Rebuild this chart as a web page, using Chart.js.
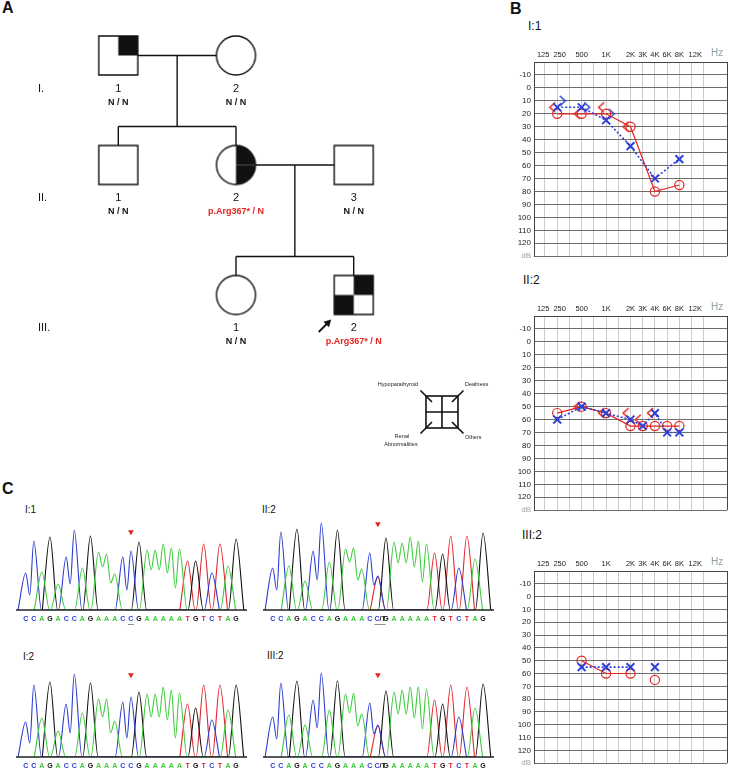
<!DOCTYPE html>
<html>
<head>
<meta charset="utf-8">
<script src="https://cdn.jsdelivr.net/npm/chart.js@4.4.1/dist/chart.umd.min.js"></script>
<style>
  body { margin: 0; background: #fff; overflow: hidden; }
  #fig { position: relative; width: 730px; height: 771px; font-family: "Liberation Sans", Arial, sans-serif; color: #111; }
  #fig canvas, #fig .lbl { position: absolute; }
  .lbl { line-height: 1; white-space: nowrap; }
  .panel { font-weight: bold; font-size: 16px; }
  .aud { font-size: 12px; }
  .seq { font-size: 10px; }
</style>
</head>
<body>
<div id="fig">
  <div class="lbl panel" style="left:2px;top:0px">A</div>
  <div class="lbl panel" style="left:510px;top:1px">B</div>
  <div class="lbl panel" style="left:2px;top:481px">C</div>

  <div class="lbl aud" style="left:528px;top:20px">I:1</div>
  <div class="lbl aud" style="left:523px;top:274px">II:2</div>
  <div class="lbl aud" style="left:522px;top:529px">III:2</div>

  <div class="lbl seq" style="left:25px;top:505px">I:1</div>
  <div class="lbl seq" style="left:262px;top:505px">II:2</div>
  <div class="lbl seq" style="left:23px;top:652px">I:2</div>
  <div class="lbl seq" style="left:267px;top:651px">III:2</div>

  <canvas id="pedigree" width="500" height="470" style="left:0;top:0"></canvas>
  <canvas id="audI1" width="230" height="223" style="left:500px;top:41px"></canvas>
  <canvas id="audII2" width="230" height="223" style="left:500px;top:295px"></canvas>
  <canvas id="audIII2" width="230" height="221" style="left:500px;top:550px"></canvas>
  <canvas id="seqI1" width="231" height="110" style="left:16px;top:515px"></canvas>
  <canvas id="seqII2" width="231" height="110" style="left:263px;top:515px"></canvas>
  <canvas id="seqI2" width="231" height="110" style="left:16px;top:662px"></canvas>
  <canvas id="seqIII2" width="231" height="110" style="left:263px;top:662px"></canvas>
</div>

<script>
// ---------- pedigree (panel A) ----------
const pedNum = ['1', '2', '1', '2', '3', '1', '2'];
const pedGen = [0, 0, 1, 1, 1, 2, 2];
const pedCol = [1, 2, 1, 2, 3, 2, 3];
const pedSex = ['M', 'F', 'M', 'F', 'M', 'F', 'M'];
const pedGeno = ['N / N', 'N / N', 'N / N', 'p.Arg367* / N', 'N / N', 'N / N', 'p.Arg367* / N'];
// quadrants: hypoparathyroid, deafness, renal abnormalities, others
const pedAffected = [[0, 1, 0, 0], [0, 0, 0, 0], [0, 0, 0, 0], [0, 1, 0, 1], [0, 0, 0, 0], [0, 0, 0, 0], [0, 1, 1, 0]];
const pedCouples = [[0, 1], [3, 4]];
const pedChildren = [[2, 3], [5, 6]];
const proband = 6;
const genNames = ['I.', 'II.', 'III.'];
const genY = [55.5, 165, 295];
const keyNames = ['Hypoparathyroid', 'Deafness', 'Renal|Abnormalities', 'Others'];

// ---------- audiograms (panel B) ----------
const audSlots = [2, 4, 6, 8, 9, 10, 11, 12];          // 250 500 1K 2K 3K 4K 6K 8K
const gridSlots = [1, 2, 3, 4, 5, 6, 7, 8, 9, 10, 11, 12, 13, 14];
const tickNames = ['125', '250', '500', '1K', '2K', '3K', '4K', '6K', '8K', '12K'];
const labelSlots = [0.85, 2.2, 4, 6, 8, 9, 10, 11, 12, 13.3];
const dbTicks = [-20, -10, 0, 10, 20, 30, 40, 50, 60, 70, 80, 90, 100, 110, 120, 130];

const i1RightAir = [20, 20, 20, 30, null, 80, null, 75];
const i1LeftAir = [15, 15, 25, 45, null, 70, null, 55];
const i1RightBone = [15, 20, 15, 30, null, null, null, null];
const i1LeftBone = [10, 15, 20, null, null, null, null, null];

const ii2RightAir = [55, 50, 55, 65, 65, 65, 65, 65];
const ii2LeftAir = [60, 50, 55, 60, 65, 55, 70, 70];
const ii2RightBone = [null, 50, 55, 55, 60, 55, null, null];

const iii2RightAir = [null, 50, 60, 60, null, 65, null, null];
const iii2LeftAir = [null, 55, 55, 55, null, 55, null, null];

// ---------- chromatograms (panel C) ----------
const seqBases = 'CCAGACCAGAAACCGAAAAATGTCTAG'.split('');
const markPos = 13;
const i1Peaks = [37, 69, 38, 73, 26, 53, 80, 42, 74, 58, 56, 36, 53, 59, 68, 60, 60, 66, 62, 61, 49, 49, 66, 37, 66, 44, 71];
const i1Valleys = [15, 26, 43, 27, 20, 40, 40, 37, 22];
const ii2Peaks = [42, 78, 44, 81, 29, 59, 87, 48, 80, 61, 62, 41, 57, 34, 72, 68, 67, 73, 69, 66, 57, 56, 74, 42, 74, 51, 77];
const ii2Valleys = [20, 30, 48, 30, 25, 47, 47, 43, 28];
const i2Peaks = [35, 72, 39, 75, 26, 53, 83, 44, 74, 58, 58, 36, 55, 60, 65, 63, 63, 70, 67, 64, 53, 49, 72, 37, 72, 47, 72];
const i2Valleys = [14, 24, 40, 24, 19, 40, 40, 37, 19];
const iii2Peaks = [40, 74, 42, 76, 32, 57, 84, 47, 76, 63, 64, 43, 54, 32, 66, 65, 67, 70, 70, 68, 57, 53, 72, 40, 70, 49, 73];
const iii2Valleys = [18, 29, 44, 31, 23, 43, 43, 39, 28];
const hetT = [null, 33, null, 31];       // T peak at the marked position
const markH = [78, 86, 82, 82];

const FONT = '"Liberation Sans", Arial, sans-serif';
const RED = '#e4251f';
const BLUE = '#2c3fd6';
Chart.defaults.font.family = FONT;

const baseColors = { A: '#3ccc3c', C: '#2a3bd0', G: '#111111', T: '#e3242b' };

// ---------------- pedigree ----------------
const SYM = 39;
function pedSymbol(sex, aff) {
  const c = document.createElement('canvas');
  c.width = c.height = 43;
  const g = c.getContext('2d');
  const m = 21.5, h = SYM / 2;
  const path = () => {
    g.beginPath();
    if (sex === 'M') g.rect(m - h, m - h, 2 * h, 2 * h);
    else g.arc(m, m, h, 0, Math.PI * 2);
  };
  g.fillStyle = '#fff';
  path(); g.fill();
  g.save(); path(); g.clip();
  g.fillStyle = '#111';
  const q = [[-1, -1], [1, -1], [-1, 1], [1, 1]];
  aff.forEach((a, k) => {
    if (a) g.fillRect(q[k][0] < 0 ? m - h - 1 : m, q[k][1] < 0 ? m - h - 1 : m, h + 1, h + 1);
  });
  g.restore();
  g.strokeStyle = '#111'; g.lineWidth = 1.4;
  path(); g.stroke();
  return c;
}

const symbolImgs = pedSex.map((s, i) => pedSymbol(s, pedAffected[i]));

const lineSegs = [];
pedCouples.forEach(([a, b]) => {
  lineSegs.push([[pedCol[a], genY[pedGen[a]]], [pedCol[b], genY[pedGen[b]]]]);
});
pedChildren.forEach((kids, c) => {
  const [a, b] = pedCouples[c];
  const mid = (pedCol[a] + pedCol[b]) / 2;
  const cy = genY[pedGen[a]];
  const childY = genY[pedGen[kids[0]]];
  const sibY = childY - SYM / 2 - 19;
  lineSegs.push([[mid, cy], [mid, sibY]]);
  const cols = kids.map(k => pedCol[k]);
  lineSegs.push([[Math.min(...cols), sibY], [Math.max(...cols), sibY]]);
  kids.forEach(k => lineSegs.push([[pedCol[k], sibY], [pedCol[k], childY]]));
});

const pedDatasets = lineSegs.map(seg => ({
  data: seg.map(([x, y]) => ({ x, y })),
  showLine: true,
  borderColor: '#111',
  borderWidth: 1.4,
  pointRadius: 0,
  order: 1
}));
pedDatasets.push({
  data: pedCol.map((c, i) => ({ x: c, y: genY[pedGen[i]] })),
  showLine: false,
  pointStyle: symbolImgs,
  pointRadius: 20,
  order: 0
});

const pedigreeText = {
  id: 'pedigreeText',
  afterDatasetsDraw(chart) {
    const { ctx, scales: { x, y } } = chart;
    ctx.save();
    ctx.textAlign = 'center';
    ctx.textBaseline = 'middle';
    pedCol.forEach((c, i) => {
      const px = x.getPixelForValue(c);
      const py = y.getPixelForValue(genY[pedGen[i]]);
      ctx.fillStyle = '#111';
      ctx.font = '11px ' + FONT;
      ctx.fillText(pedNum[i], px, py + 33);
      ctx.font = 'bold 9px ' + FONT;
      ctx.fillStyle = pedGeno[i].indexOf('Arg') >= 0 ? RED : '#111';
      ctx.fillText(pedGeno[i], px, py + 47);
    });
    // generation numerals
    ctx.textAlign = 'left';
    ctx.fillStyle = '#111';
    ctx.font = '11px ' + FONT;
    genNames.forEach((g, k) => {
      ctx.fillText(g, chart.chartArea.left + 38, y.getPixelForValue(genY[k]) + 33);
    });
    // proband arrow
    const ax = x.getPixelForValue(pedCol[proband]);
    const ay = y.getPixelForValue(genY[pedGen[proband]]);
    const tx = ax - 22.5, ty = ay + 24.5;
    ctx.strokeStyle = '#111'; ctx.lineWidth = 1.8;
    ctx.beginPath(); ctx.moveTo(ax - 35, ay + 37); ctx.lineTo(tx - 3, ty + 3); ctx.stroke();
    const bx = tx - 5, by = ty + 5;
    ctx.fillStyle = '#111';
    ctx.beginPath(); ctx.moveTo(tx, ty); ctx.lineTo(bx - 2.8, by - 2.8); ctx.lineTo(bx + 2.8, by + 2.8); ctx.closePath(); ctx.fill();
    // legend key
    const kx = x.getPixelForValue(3.75), ky = y.getPixelForValue(412), kh = 16;
    ctx.lineWidth = 1.6;
    ctx.strokeRect(kx - kh, ky - kh, 2 * kh, 2 * kh);
    ctx.beginPath();
    ctx.moveTo(kx, ky - kh); ctx.lineTo(kx, ky + kh);
    ctx.moveTo(kx - kh, ky); ctx.lineTo(kx + kh, ky);
    [[-1, -1], [1, -1], [-1, 1], [1, 1]].forEach(([sx, sy]) => {
      const cx = kx + sx * kh, cy = ky + sy * kh;
      ctx.moveTo(cx + sx * 5.5, cy + sy * 5.5);
      ctx.lineTo(cx - sx * 6, cy - sy * 6);
    });
    ctx.stroke();
    ctx.font = '5.5px ' + FONT;
    ctx.fillStyle = '#222';
    ctx.textAlign = 'center';
    ctx.fillText(keyNames[0], kx - 44, ky - 27.5);
    const renal = keyNames[2].split('|');
    ctx.fillText(renal[0], kx - 40, ky + 24);
    ctx.fillText(renal[1], kx - 41, ky + 32);
    ctx.textAlign = 'left';
    ctx.fillText(keyNames[1], kx + 23, ky - 28);
    ctx.fillText(keyNames[3], kx + 23, ky + 25);
    ctx.restore();
  }
};

new Chart(document.getElementById('pedigree'), {
  type: 'scatter',
  data: { datasets: pedDatasets },
  options: {
    responsive: false,
    animation: false,
    events: [],
    layout: { padding: 0, autoPadding: false },
    plugins: { legend: { display: false }, tooltip: { enabled: false } },
    scales: {
      x: { type: 'linear', display: false, min: -0.6 / 117.7, max: 499.4 / 117.7 },
      y: { type: 'linear', display: false, reverse: true, min: 0, max: 470 }
    }
  },
  plugins: [pedigreeText]
});

// ---------------- audiograms ----------------
function chevron(color, dir) {
  const c = document.createElement('canvas');
  c.width = 8; c.height = 12;
  const g = c.getContext('2d');
  g.strokeStyle = color; g.lineWidth = 1.5;
  g.beginPath();
  if (dir < 0) { g.moveTo(7, 1); g.lineTo(1.5, 6); g.lineTo(7, 11); }
  else { g.moveTo(1, 1); g.lineTo(6.5, 6); g.lineTo(1, 11); }
  g.stroke();
  return c;
}
const boneRight = chevron(RED, -1);
const boneLeft = chevron(BLUE, 1);

const HZ_SLOT = 15.1;
const X_MAX = 15.9;
const xTickVals = Array.from(new Set([...gridSlots, ...labelSlots, HZ_SLOT, X_MAX])).sort((a, b) => a - b);

function audiogram(id, rightAir, leftAir, rightBone, leftBone, joinGaps) {
  const pts = (vals, shift) => audSlots.map((s, i) => ({ x: s + shift, y: vals[i] }));
  const datasets = [
    {
      data: pts(leftAir, 0), borderColor: BLUE, borderWidth: 1.6, borderDash: [2, 2],
      pointStyle: 'crossRot', pointRadius: 5.5, pointBorderWidth: 1.9,
      pointBorderColor: BLUE, pointBackgroundColor: 'rgba(0,0,0,0)', spanGaps: joinGaps
    },
    {
      data: pts(rightAir, 0), borderColor: RED, borderWidth: 1.2,
      pointStyle: 'circle', pointRadius: 4.6, pointBorderWidth: 1.2,
      pointBorderColor: RED, pointBackgroundColor: 'rgba(0,0,0,0)', spanGaps: joinGaps
    }
  ];
  if (rightBone) datasets.push({ data: pts(rightBone, -0.4), showLine: false, pointStyle: boneRight, pointRadius: 5 });
  if (leftBone) datasets.push({ data: pts(leftBone, 0.45), showLine: false, pointStyle: boneLeft, pointRadius: 5 });

  new Chart(document.getElementById(id), {
    type: 'line',
    data: { datasets },
    options: {
      responsive: false,
      animation: false,
      events: [],
      layout: { padding: { top: 0, right: 1, bottom: 6, left: 0 }, autoPadding: false },
      plugins: { legend: { display: false }, tooltip: { enabled: false } },
      scales: {
        x: {
          type: 'linear', position: 'top', min: 0.1, max: X_MAX,
          afterBuildTicks: s => { s.ticks = xTickVals.map(v => ({ value: v })); },
          afterFit: s => { s.height = 21; },
          grid: {
            drawTicks: false, lineWidth: 1,
            color: c => {
              const v = c.tick ? c.tick.value : null;
              if (v === X_MAX) return '#444';
              return gridSlots.indexOf(v) >= 0 ? '#cacaca' : 'rgba(0,0,0,0)';
            }
          },
          border: { color: '#444', width: 1 },
          ticks: {
            autoSkip: false, maxRotation: 0, padding: 3,
            font: c => ({ size: c.tick && c.tick.value === HZ_SLOT ? 10 : 7.5 }),
            color: c => c.tick && c.tick.value === HZ_SLOT ? '#8f9ea4' : '#222',
            callback: v => {
              if (v === HZ_SLOT) return 'Hz';
              const k = labelSlots.indexOf(v);
              return k >= 0 ? tickNames[k] : '';
            }
          }
        },
        y: {
          type: 'linear', reverse: true, min: -20, max: 130,
          afterBuildTicks: s => { s.ticks = dbTicks.map(v => ({ value: v })); },
          afterFit: s => { s.width = 34; },
          grid: { drawTicks: false, color: '#6e6e6e', lineWidth: 1 },
          border: { color: '#444', width: 1 },
          ticks: {
            padding: 3, font: { size: 8 },
            color: c => c.tick && c.tick.value === 130 ? '#9aa4a8' : '#222',
            callback: v => v === -20 ? '' : (v === 130 ? 'dB' : String(v))
          }
        }
      }
    }
  });
}

audiogram('audI1', i1RightAir, i1LeftAir, i1RightBone, i1LeftBone, true);
audiogram('audII2', ii2RightAir, ii2LeftAir, ii2RightBone, null, true);
audiogram('audIII2', iii2RightAir, iii2LeftAir, null, null, false);

// ---------------- chromatograms ----------------
const seqText = {
  id: 'seqText',
  afterDatasetsDraw(chart, args, opts) {
    const { ctx, chartArea, scales: { x } } = chart;
    ctx.save();
    ctx.strokeStyle = '#222';
    ctx.lineWidth = 1.5;
    ctx.beginPath();
    ctx.moveTo(chartArea.left, chartArea.bottom);
    ctx.lineTo(chartArea.right, chartArea.bottom);
    ctx.stroke();
    ctx.font = 'bold 7px ' + FONT;
    ctx.textBaseline = 'middle';
    ctx.textAlign = 'center';
    const ly = chartArea.bottom + 9.5;
    seqBases.forEach((b, i) => {
      const px = x.getPixelForValue(i);
      if (i === markPos && opts.het) {
        ctx.textAlign = 'left';
        const x0 = px - 3.5;
        ctx.fillStyle = baseColors.C;
        ctx.fillText('C', x0, ly);
        const w = ctx.measureText('C').width;
        ctx.fillStyle = '#222';
        ctx.fillText('/T', x0 + w, ly);
        const w2 = ctx.measureText('C/T').width;
        ctx.fillRect(x0, ly + 5, w2, 0.9);
        ctx.textAlign = 'center';
        return;
      }
      ctx.fillStyle = baseColors[b];
      ctx.fillText(b, px, ly);
      if (i === markPos) {
        ctx.fillStyle = '#222';
        ctx.fillRect(px - 3, ly + 5, 6, 0.9);
      }
    });
    ctx.restore();
  }
};

function chromatogram(id, peaks, valleys, het, mark) {
  const valleyAt = {};
  let k = 0;
  seqBases.forEach((b, i) => {
    if (i < seqBases.length - 1 && seqBases[i + 1] === b) valleyAt[i] = valleys[k++];
  });
  const has = (b, i) => i >= 0 && i < seqBases.length &&
    (seqBases[i] === b || (het && i === markPos && b === 'T'));
  const datasets = ['A', 'C', 'G', 'T'].map(b => {
    const pts = [];
    seqBases.forEach((_, i) => {
      if (!has(b, i)) return;
      const h = (het && i === markPos && b === 'T') ? het : peaks[i];
      if (!has(b, i - 1)) pts.push({ x: i - 0.95, y: 0 });
      pts.push({ x: i, y: h });
      if (has(b, i + 1) && valleyAt[i] !== undefined) pts.push({ x: i + 0.5, y: valleyAt[i] });
      else pts.push({ x: i + 0.95, y: 0 });
    });
    return {
      data: pts, borderColor: baseColors[b], borderWidth: 1.1,
      pointRadius: 0, cubicInterpolationMode: 'monotone', fill: false
    };
  });
  datasets.push({
    data: [{ x: markPos, y: mark }], showLine: false,
    pointStyle: 'triangle', rotation: 180, pointRadius: 3.3,
    pointBackgroundColor: RED, pointBorderColor: RED, pointBorderWidth: 0
  });

  new Chart(document.getElementById(id), {
    type: 'line',
    data: { datasets },
    options: {
      responsive: false,
      animation: false,
      events: [],
      layout: { padding: { top: 5, bottom: 15, left: 0, right: 0 }, autoPadding: false },
      plugins: { legend: { display: false }, tooltip: { enabled: false }, seqText: { het: !!het } },
      scales: {
        x: { type: 'linear', display: false, min: -1.2, max: 27.35 },
        y: { type: 'linear', display: false, min: 0, max: 90 }
      }
    },
    plugins: [seqText]
  });
}

chromatogram('seqI1', i1Peaks, i1Valleys, hetT[0], markH[0]);
chromatogram('seqII2', ii2Peaks, ii2Valleys, hetT[1], markH[1]);
chromatogram('seqI2', i2Peaks, i2Valleys, hetT[2], markH[2]);
chromatogram('seqIII2', iii2Peaks, iii2Valleys, hetT[3], markH[3]);
</script>
</body>
</html>
